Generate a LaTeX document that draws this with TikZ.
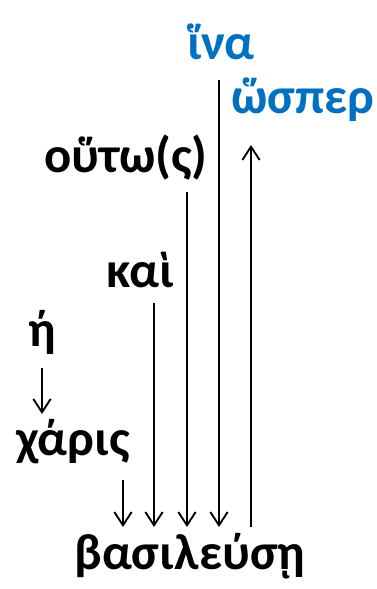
\documentclass[tikz,border=0pt]{standalone}
\usepackage{fontspec}
\setmainfont{Carlito}
\usetikzlibrary{arrows.meta}
\definecolor{wordblue}{HTML}{0070C0}
\tikzset{
  word/.style={font=\bfseries\fontsize{38}{44}\selectfont, inner sep=0pt},
  conj/.style={word, text=wordblue},
  link/.style={line width=1.6pt, -{Straight Barb[length=10pt,width=13pt,line width=1.4pt]}},
  back/.style={line width=1.6pt, {Straight Barb[length=10pt,width=13pt,line width=1.4pt]}-},
}
\begin{document}
\begin{tikzpicture}[x=0.75pt, y=-0.75pt]
\useasboundingbox (0,0) rectangle (376,589);
\node [conj] (hina) at (221,42) {ἵνα};
\node [conj] (hosper) at (303,100) {ὥσπερ};
\node [word] (houto) at (126,158) {οὕτω(ς)};
\node [word] (kai) at (140,270) {καὶ};
\node [word] (he) at (42,332) {ή};
\node [word] (charis) at (73,442) {χάρις};
\node [word] (basil) at (190,556) {βασιλεύσῃ};
% where the lines leave the words and meet the verb
\coordinate (hina-foot) at (219,80);
\coordinate (houto-foot) at (187,192);
\coordinate (kai-foot) at (154,303);
\coordinate (charis-foot) at (123,480);
\coordinate (hosper-foot) at (251,145);
\coordinate (he-foot) at (42,368);
\coordinate (basil-top) at (190,527);
\draw [link] (he-foot) -- ++(0,46) coordinate (he-tip);
\draw [link] (charis-foot) -- (charis-foot |- basil-top);
\draw [link] (kai-foot) -- (kai-foot |- basil-top);
\draw [link] (houto-foot) -- (houto-foot |- basil-top);
\draw [link] (hina-foot) -- (hina-foot |- basil-top);
\draw [back] (hosper-foot) -- (hosper-foot |- basil-top);
\end{tikzpicture}
\end{document}
